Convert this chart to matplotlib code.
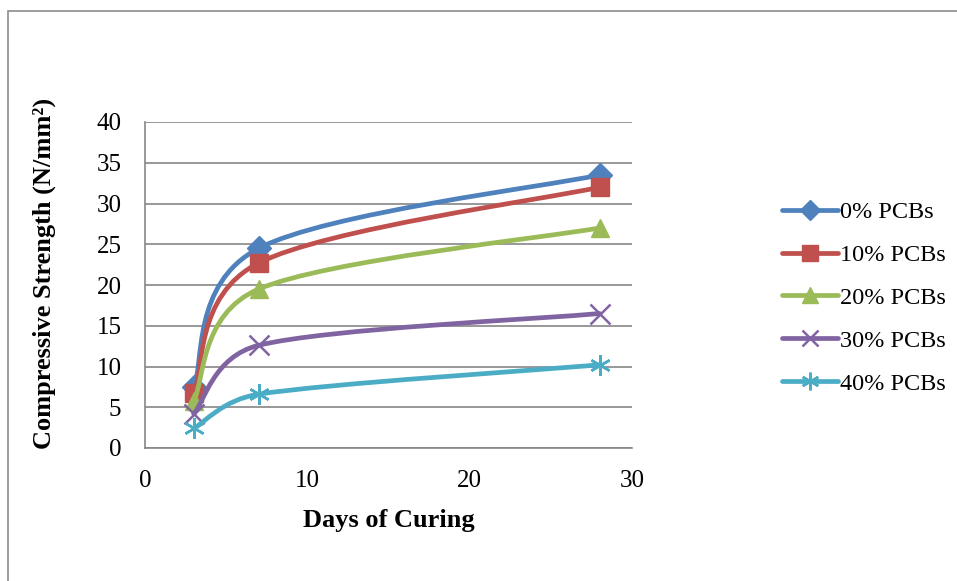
import numpy as np
import matplotlib.pyplot as plt
from matplotlib.path import Path
from matplotlib.patches import PathPatch, Rectangle
from matplotlib.lines import Line2D

plt.rcParams["font.family"] = ["Liberation Serif", "DejaVu Serif"]

# ----------------------------------------------------------------------
# Data
# ----------------------------------------------------------------------
days = [3, 7, 28]
pcb_0 = [7.5, 24.5, 33.5]
pcb_10 = [6.7, 22.7, 32.0]
pcb_20 = [5.8, 19.5, 27.0]
pcb_30 = [4.2, 12.6, 16.5]
pcb_40 = [2.4, 6.6, 10.2]

labels = ["0% PCBs", "10% PCBs", "20% PCBs", "30% PCBs", "40% PCBs"]
series = [pcb_0, pcb_10, pcb_20, pcb_30, pcb_40]
colors = ["#4F81BD", "#C0504D", "#9BBB59", "#8064A2", "#4BACC6"]
markers = ["D", "s", "^", "x", (6, 2, 0)]
msizes = [12, 13.5, 13, 14, 15]

# pixels per data unit (used so the smoothing behaves like it does on screen)
SX, SY = 487 / 30, 326 / 40


def smooth_path(xs, ys):
    """Excel-like smoothed line: cardinal spline as cubic Beziers, with the
    handles clipped to half of the neighbouring chord."""
    pts = np.column_stack([np.asarray(xs) * SX, np.asarray(ys) * SY])
    n = len(pts)
    tang = []
    for i in range(n):
        a = pts[i - 1] if i > 0 else pts[i]
        b = pts[i + 1] if i + 1 < n else pts[i]
        tang.append((b - a) / 6.0)

    def clip(t, chord):
        lim = 0.5 * np.hypot(*chord)
        ln = np.hypot(*t)
        return t * (lim / ln) if ln > lim else t

    verts = [pts[0]]
    codes = [Path.MOVETO]
    for i in range(n - 1):
        chord = pts[i + 1] - pts[i]
        c1 = pts[i] + clip(tang[i], chord)
        c2 = pts[i + 1] - clip(tang[i + 1], chord)
        verts += [c1, c2, pts[i + 1]]
        codes += [Path.CURVE4] * 3
    verts = np.array(verts) / [SX, SY]
    return Path(verts, codes)


fig = plt.figure(figsize=(9.57, 5.81), dpi=100)
fig.patches.append(Rectangle((8 / 957, -0.1), 1.2, 1 - 11 / 581 + 0.1,
                             transform=fig.transFigure, fill=False,
                             edgecolor="#8C8C8C", linewidth=1.2))

ax = fig.add_axes([145 / 957, 1 - 448 / 581, 487 / 957, 326 / 581])
ax.set_xlim(0, 30)
ax.set_ylim(0, 40)
ax.set_xticks([0, 10, 20, 30])
ax.set_yticks(range(0, 41, 5))
ax.grid(axis="y", color="#868686", linewidth=1.2)
ax.set_axisbelow(True)
for s in ["top", "right"]:
    ax.spines[s].set_visible(False)
for s in ["left", "bottom"]:
    ax.spines[s].set_color("#868686")
    ax.spines[s].set_linewidth(1.2)
ax.tick_params(length=0, labelsize=18)
ax.tick_params(axis="y", pad=17)
ax.tick_params(axis="x", pad=16)

handles = []
for k, (vals, lab, col, mk, ms) in enumerate(
        zip(series, labels, colors, markers, msizes)):
    ax.add_patch(PathPatch(smooth_path(days, vals), facecolor="none",
                           edgecolor=col, linewidth=3.4, capstyle="round",
                           zorder=3 + 2 * k))
    mew = 1.8 if mk == "x" or isinstance(mk, tuple) else 1
    ax.plot(days, vals, linestyle="none", marker=mk, markersize=ms,
            color=col, markeredgecolor=col, markeredgewidth=mew,
            zorder=4 + 2 * k)
    handles.append(Line2D([], [], color=col, linewidth=3.4, marker=mk,
                          markersize=ms * 0.85, markeredgewidth=mew,
                          solid_capstyle="round", label=lab))

ax.set_ylabel("Compressive Strength (N/mm²)", fontsize=19,
              fontweight="bold")
ax.yaxis.set_label_coords(-0.183, 0.534)
ax.set_xlabel("Days of Curing", fontsize=19, fontweight="bold", labelpad=12)

fig.legend(handles=handles, loc="center left",
           bbox_to_anchor=(770 / 957, 1 - 298 / 581), frameon=False,
           fontsize=17.5, handlelength=2.3, handletextpad=0.1,
           labelspacing=0.86, borderpad=0)

fig.savefig("out.png", dpi=100)
